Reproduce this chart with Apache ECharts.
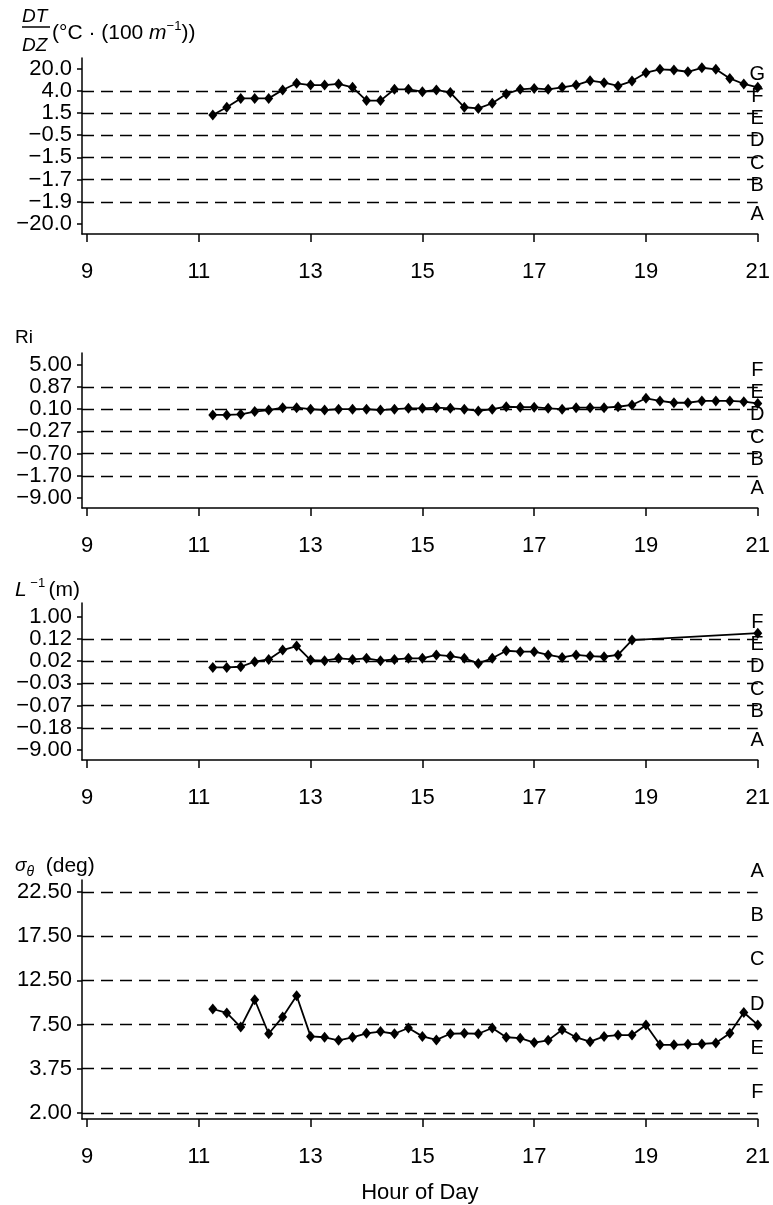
<!DOCTYPE html>
<html>
<head>
<meta charset="utf-8">
<title>Stability indicators by hour of day</title>
<script src="https://cdn.jsdelivr.net/npm/echarts@6/dist/echarts.min.js"></script>
<style>
  html, body { margin: 0; padding: 0; background: #fff; }
  #chart { width: 773px; height: 1205px; }
</style>
</head>
<body>
<div id="chart"></div>
<script>
// hour of day, one reading every 15 minutes
const hours = [11.25, 11.5, 11.75, 12, 12.25, 12.5, 12.75, 13, 13.25, 13.5,
  13.75, 14, 14.25, 14.5, 14.75, 15, 15.25, 15.5, 15.75, 16,
  16.25, 16.5, 16.75, 17, 17.25, 17.5, 17.75, 18, 18.25, 18.5,
  18.75, 19, 19.25, 19.5, 19.75, 20, 20.25, 20.5, 20.75, 21];
const hourTicks = [9, 11, 13, 15, 17, 19, 21];

// every panel uses a class scale: 0 = lowest tick label, 1 = next one ...
// DT/DZ
const dtdzTicks = ['\u221220.0', '\u22121.9', '\u22121.7', '\u22121.5', '\u22120.5', '1.5', '4.0', '20.0'];
const dtdzLines = [1, 2, 3, 4, 5, 6];
const dtdzClasses = ['A', 'B', 'C', 'D', 'E', 'F', 'G'];
const dtdzLevel = [4.91, 5.26, 5.66, 5.66, 5.66, 6.04, 6.34, 6.26, 6.26, 6.31,
  6.16, 5.56, 5.56, 6.07, 6.07, 5.96, 6.04, 5.92, 5.26, 5.21,
  5.44, 5.86, 6.07, 6.11, 6.07, 6.16, 6.26, 6.46, 6.37, 6.22,
  6.44, 6.82, 6.97, 6.94, 6.86, 7.04, 6.97, 6.56, 6.31, 6.16];

// Ri
const riTicks = ['\u22129.00', '\u22121.70', '\u22120.70', '\u22120.27', '0.10', '0.87', '5.00'];
const riLines = [1, 2, 3, 4, 5];
const riClasses = ['A', 'B', 'C', 'D', 'E', 'F'];
const riLevel = [3.74, 3.74, 3.77, 3.89, 3.96, 4.07, 4.07, 4.00, 3.96, 4.00,
  4.00, 4.00, 3.96, 4.00, 4.04, 4.04, 4.07, 4.04, 4.00, 3.92,
  4.00, 4.11, 4.09, 4.09, 4.04, 4.00, 4.07, 4.07, 4.07, 4.11,
  4.19, 4.49, 4.37, 4.29, 4.29, 4.37, 4.37, 4.37, 4.34, 4.26];

// 1/L
const lTicks = ['\u22129.00', '\u22120.18', '\u22120.07', '\u22120.03', '0.02', '0.12', '1.00'];
const lLines = [1, 2, 3, 4, 5];
const lClasses = ['A', 'B', 'C', 'D', 'E', 'F'];
const lLevel = [3.72, 3.72, 3.75, 3.98, 4.08, 4.50, 4.68, 4.05, 4.02, 4.13,
  4.08, 4.13, 4.02, 4.08, 4.13, 4.13, 4.28, 4.23, 4.13, 3.90,
  4.13, 4.47, 4.43, 4.43, 4.28, 4.17, 4.28, 4.23, 4.20, 4.28,
  4.95, null, null, null, null, null, null, null, null, 5.26];

// sigma theta (classes run downwards)
const sigmaTicks = ['2.00', '3.75', '7.50', '12.50', '17.50', '22.50'];
const sigmaLines = [0, 1, 2, 3, 4, 5];
const sigmaClasses = ['A', 'B', 'C', 'D', 'E', 'F'];
const sigmaLevel = [2.35, 2.26, 1.94, 2.56, 1.79, 2.17, 2.65, 1.73, 1.71, 1.64,
  1.71, 1.80, 1.84, 1.79, 1.92, 1.73, 1.65, 1.79, 1.80, 1.79,
  1.92, 1.71, 1.69, 1.59, 1.64, 1.88, 1.71, 1.61, 1.73, 1.76,
  1.76, 1.99, 1.54, 1.54, 1.55, 1.56, 1.58, 1.80, 2.27, 1.99];

const FONT = '"Liberation Sans", Arial, Helvetica, sans-serif';

const upward = k => (k === 0 ? 0.4 : k + 0.72);
const panels = [
  { top: 58, height: 176, min: -0.45, max: 7.48, ticks: dtdzTicks, lines: dtdzLines, classes: dtdzClasses, level: dtdzLevel, letterAt: upward },
  { top: 353, height: 155, min: -0.45, max: 6.53, ticks: riTicks, lines: riLines, classes: riClasses, level: riLevel, letterAt: upward },
  { top: 603, height: 157, min: -0.45, max: 6.62, ticks: lTicks, lines: lLines, classes: lClasses, level: lLevel, letterAt: upward },
  { top: 880, height: 239, min: -0.14, max: 5.27, ticks: sigmaTicks, lines: sigmaLines, classes: sigmaClasses, level: sigmaLevel, letterAt: k => 5 - k + 0.45 }
];

const black = { color: '#000', width: 1.5 };

const option = {
  animation: false,
  backgroundColor: '#fff',
  grid: panels.map(p => ({ left: 82, right: 13.5, top: p.top, height: p.height })),
  xAxis: panels.map((p, i) => ({
    gridIndex: i,
    type: 'value',
    min: 8.91,
    max: 21,
    axisLine: { show: true, onZero: false, lineStyle: black },
    axisTick: { show: true, customValues: hourTicks, length: 8, lineStyle: black },
    axisLabel: { customValues: hourTicks, margin: 27, fontSize: 22, fontFamily: FONT, color: '#000' },
    splitLine: { show: false },
    name: i === 3 ? 'Hour of Day' : '',
    nameLocation: 'middle',
    nameGap: 63,
    nameTextStyle: { fontSize: 22, fontFamily: FONT, color: '#000' }
  })),
  yAxis: panels.map((p, i) => ({
    gridIndex: i,
    type: 'value',
    min: p.min,
    max: p.max,
    axisLine: { show: true, onZero: false, lineStyle: black },
    axisTick: { show: true, customValues: p.ticks.map((t, k) => k), length: 5, lineStyle: black },
    axisLabel: {
      customValues: p.ticks.map((t, k) => k),
      formatter: v => p.ticks[Math.round(v)],
      margin: 10, fontSize: 22, fontFamily: FONT, color: '#000'
    },
    splitLine: { show: false }
  })),
  series: [],
  graphic: [
    { type: 'text', x: 22, y: 17, style: { text: 'DT', font: 'italic 19px ' + FONT, fill: '#000', verticalAlign: 'middle', textVerticalAlign: 'middle' } },
    { type: 'line', shape: { x1: 22, y1: 27, x2: 50, y2: 27 }, style: { stroke: '#000', lineWidth: 1.5 } },
    { type: 'text', x: 22, y: 46, style: { text: 'DZ', font: 'italic 19px ' + FONT, fill: '#000', verticalAlign: 'middle', textVerticalAlign: 'middle' } },
    {
      type: 'text', x: 52, y: 33,
      style: {
        text: '{n|(°C · (100 }{i|m}{s|\u22121}{n|))}',
        verticalAlign: 'middle', textVerticalAlign: 'middle',
        rich: {
          n: { fontSize: 21, fontFamily: FONT, lineHeight: 26, verticalAlign: 'middle', fill: '#000' },
          i: { fontSize: 21, fontFamily: FONT, fontStyle: 'italic', lineHeight: 26, verticalAlign: 'middle', fill: '#000' },
          s: { fontSize: 13, fontFamily: FONT, lineHeight: 13, verticalAlign: 'top', fill: '#000' }
        }
      }
    },
    { type: 'text', x: 15, y: 338, style: { text: 'Ri', font: '19px ' + FONT, fill: '#000', verticalAlign: 'middle', textVerticalAlign: 'middle' } },
    {
      type: 'text', x: 15, y: 590,
      style: {
        text: '{i|L}{s| \u22121} {n|(m)}',
        verticalAlign: 'middle', textVerticalAlign: 'middle',
        rich: {
          n: { fontSize: 21, fontFamily: FONT, lineHeight: 26, verticalAlign: 'middle', fill: '#000' },
          i: { fontSize: 21, fontFamily: FONT, fontStyle: 'italic', lineHeight: 26, verticalAlign: 'middle', fill: '#000' },
          s: { fontSize: 13, fontFamily: FONT, lineHeight: 13, verticalAlign: 'top', fill: '#000' }
        }
      }
    },
    {
      type: 'text', x: 15, y: 866,
      style: {
        text: '{i|σ}{b|θ}{n|  (deg)}',
        verticalAlign: 'middle', textVerticalAlign: 'middle',
        rich: {
          n: { fontSize: 21, fontFamily: FONT, lineHeight: 26, verticalAlign: 'middle', fill: '#000' },
          i: { fontSize: 19, fontFamily: FONT, fontStyle: 'italic', lineHeight: 26, verticalAlign: 'middle', fill: '#000' },
          b: { fontSize: 14, fontFamily: FONT, fontStyle: 'italic', lineHeight: 14, verticalAlign: 'bottom', fill: '#000' }
        }
      }
    }
  ]
};

panels.forEach((p, i) => {
  option.series.push({
    type: 'line',
    xAxisIndex: i,
    yAxisIndex: i,
    data: hours.map((h, k) => [h, p.level[k]]),
    connectNulls: true,
    symbol: 'diamond',
    symbolSize: [9, 11],
    lineStyle: { color: '#000', width: 1.8 },
    itemStyle: { color: '#000' },
    z: 3,
    markLine: {
      silent: true,
      symbol: 'none',
      label: { show: false },
      lineStyle: { color: '#000', type: [12, 7], width: 1.3 },
      data: p.lines.map(v => ({ yAxis: v }))
    }
  });
  // stability class letters at the right edge
  option.series.push({
    type: 'scatter',
    xAxisIndex: i,
    yAxisIndex: i,
    data: p.classes.map((c, k) => ({ name: c, value: [21, p.letterAt(k)] })),
    symbol: 'circle',
    symbolSize: 1,
    itemStyle: { color: 'rgba(255,255,255,0)', opacity: 1 },
    label: {
      show: true, position: [0, 0], align: 'center', verticalAlign: 'middle',
      formatter: '{b}', fontSize: 20, fontFamily: FONT, color: '#000', textBorderWidth: 0, opacity: 1
    },
    clip: false,
    silent: true,
    z: 5
  });
});

const chart = echarts.init(document.getElementById('chart'));
chart.setOption(option);
</script>
</body>
</html>
